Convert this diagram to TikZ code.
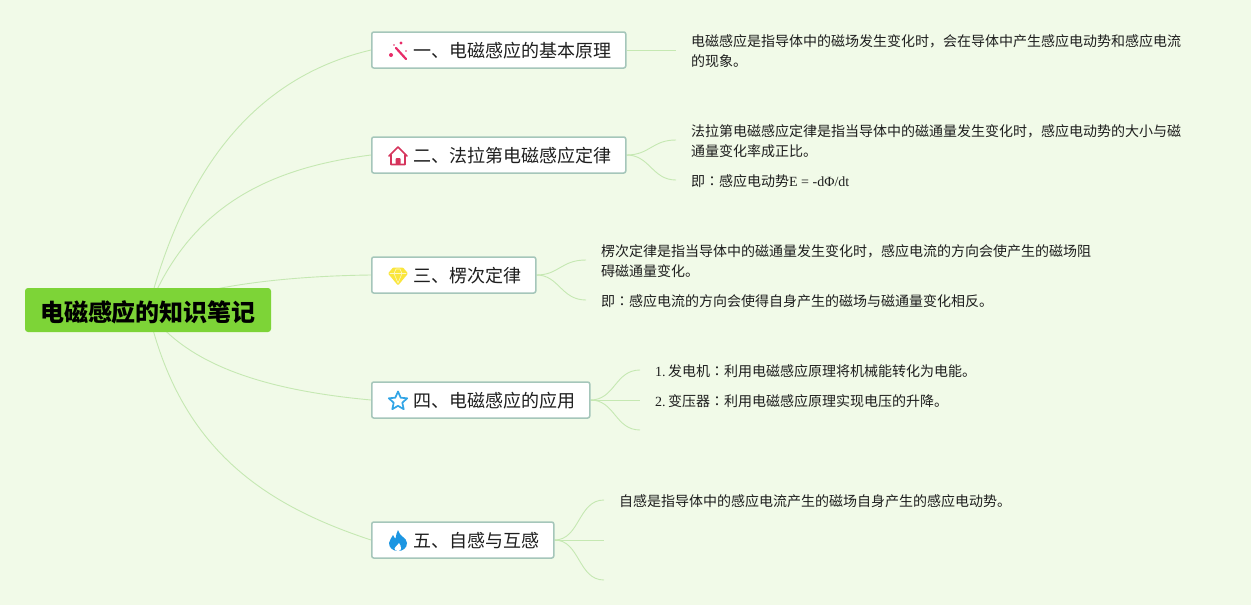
\documentclass[tikz,border=0pt]{standalone}
\usepackage{fontspec}
\setmainfont{Noto Sans CJK SC}
\newfontfamily\latinfont{Liberation Serif}
\newfontfamily\twfont{Noto Sans CJK TC}
\usetikzlibrary{backgrounds}
\definecolor{paper}{RGB}{241,250,232}
\definecolor{linkgreen}{RGB}{197,232,178}
\definecolor{rootgreen}{RGB}{125,212,55}
\definecolor{topicedge}{RGB}{165,198,186}
\definecolor{inkblack}{RGB}{30,30,30}
\definecolor{wandred}{RGB}{232,44,104}
\definecolor{housered}{RGB}{214,52,92}
\definecolor{gemyellow}{RGB}{250,230,60}
\definecolor{starblue}{RGB}{50,165,230}
\definecolor{flameblue}{RGB}{28,150,226}
\def\zhcolon{{\twfont ：}}
\def\topictext#1{\hspace*{27pt}#1}
\def\itemno#1{{\latinfont #1.}\hspace{2.4pt}}
\tikzset{
 rootnode/.style={fill=rootgreen,rounded corners=3pt,inner xsep=0pt,minimum width=246pt,minimum height=44pt,
  text height=22.2pt,text depth=0pt,font=\fontsize{24}{28}\selectfont\bfseries,text=black},
 topicnode/.style={draw=topicedge,line width=1.5pt,fill=white,rounded corners=2pt,anchor=west,inner xsep=14.5pt,
  inner ysep=0pt,minimum height=36pt,text height=16pt,text depth=0.3pt,font=\fontsize{18}{22}\selectfont,text=inkblack},
 leafnode/.style={anchor=west,yshift=-1.5pt,inner xsep=15pt,inner ysep=0pt,align=left,font=\fontsize{14}{20}\selectfont,text=inkblack},
 link/.style={draw=linkgreen,line width=0.9pt},
 wandicon/.pic={
  \draw[wandred,line width=2.2pt] (-3,-3)--(7,8);
  \fill[wandred] (2,-8) circle(1.6pt) (-8,4) circle(2pt) (-5,-6) circle(0.9pt) (7,0) circle(0.9pt);},
 houseicon/.pic={
  \draw[housered,line width=1.6pt] (-9,0)--(0,-9)--(9,0) (-7,-1)--(-7,8.5)--(7,8.5)--(7,-1);
  \fill[housered,rounded corners=1pt] (-2.5,8.5)--(-2.5,2)--(2.5,2)--(2.5,8.5)--cycle;},
 gemicon/.pic={
  \fill[gemyellow,rounded corners=1pt] (-5,-8.5)--(5,-8.5)--(10,-2.5)--(0,9.5)--(-10,-2.5)--cycle;
  \draw[white,opacity=0.7,line width=0.6pt] (-8,-2.5)--(8,-2.5) (-4,-2.5)--(0,7)--(4,-2.5) (-4,-2.5)--(-2,-7)--(2,-7)--(4,-2.5);},
 staricon/.pic={
  \draw[starblue,line width=1.7pt] (0,-9.5)--(2.7,-3.3)--(9.2,-2.7)--(4.3,1.7)--(5.7,8.2)--(0,4.8)
   --(-5.7,8.2)--(-4.3,1.7)--(-9.2,-2.7)--(-2.7,-3.3)--cycle;},
 flameicon/.pic={
  \fill[flameblue] (0,-11) .. controls (1,-5) and (9,-3) .. (9,2) .. controls (9,7) and (5,10) .. (0,10)
   .. controls (-5,10) and (-9,7) .. (-9,2) .. controls (-9,-1) and (-6,-3) .. (-5,-6)
   .. controls (-4,-4) and (-3.5,-3) .. (-2.5,-2.5) .. controls (-2,-6) and (-1,-9) .. (0,-11) -- cycle;
  \fill[white] (1,2) .. controls (1.5,4) and (4,5.5) .. (3,8) .. controls (2.5,9.5) and (1,10) .. (0,10)
   .. controls (-2,10) and (-3.5,9) .. (-3.5,7.5) .. controls (-3.5,6) and (-1,5) .. (1,2) -- cycle;},
}
\begin{document}
\begin{tikzpicture}[x=1pt,y=-1pt,line join=round,line cap=round]
 \useasboundingbox (0,0) rectangle (1251,605);
 % root and topics
 \node[rootnode] (root) at (148,310) {电磁感应的知识笔记};
 \node[topicnode] (topicA) at (371,50) {\topictext{一、电磁感应的基本原理}};
 \node[topicnode] (topicB) at (371,155) {\topictext{二、法拉第电磁感应定律}};
 \node[topicnode] (topicC) at (371,275) {\topictext{三、楞次定律}};
 \node[topicnode] (topicD) at (371,400) {\topictext{四、电磁感应的应用}};
 \node[topicnode] (topicE) at (371,540) {\topictext{五、自感与互感}};
 \pic at (399,51) {wandicon};
 \pic at (398,156) {houseicon};
 \pic at (398,276) {gemicon};
 \pic at (398,401) {staricon};
 \pic at (398,541) {flameicon};
 % leaves
 \node[leafnode] (leafA) at (676,50) {电磁感应是指导体中的磁场发生变化时，会在导体中产生感应电动势和感应电流\\的现象。};
 \node[leafnode] (leafBa) at (676,140) {法拉第电磁感应定律是指当导体中的磁通量发生变化时，感应电动势的大小与磁\\通量变化率成正比。};
 \node[leafnode] (leafBb) at (676,180) {即\zhcolon 感应电动势{\latinfont E = -dΦ/dt}};
 \node[leafnode] (leafCa) at (586,260) {楞次定律是指当导体中的磁通量发生变化时，感应电流的方向会使产生的磁场阻\\碍磁通量变化。};
 \node[leafnode] (leafCb) at (586,300) {即\zhcolon 感应电流的方向会使得自身产生的磁场与磁通量变化相反。};
 \node[leafnode] (leafDa) at (640,370) {\itemno{1}发电机\zhcolon 利用电磁感应原理将机械能转化为电能。};
 \node[leafnode] (leafDb) at (640,400) {\itemno{2}变压器\zhcolon 利用电磁感应原理实现电压的升降。};
 \coordinate (leafDc) at (640,430);
 \node[leafnode] (leafEa) at (604,500) {自感是指导体中的感应电流产生的磁场自身产生的感应电动势。};
 \coordinate (leafEb) at (604,540);
 \coordinate (leafEc) at (604,580);
 \begin{scope}[on background layer]
 \fill[paper] (0,0) rectangle (1251,605);
 \draw[link] (root.center) .. controls (188,155) and (265,75) .. (topicA.west);
 \draw[link] (root.center) .. controls (190,205) and (270,168) .. (topicB.west);
 \draw[link] (root.center) .. controls (200,285) and (290,276) .. (topicC.west);
 \draw[link] (root.center) .. controls (190,372) and (285,392) .. (topicD.west);
 \draw[link] (root.center) .. controls (180,450) and (265,505) .. (topicE.west);
 \draw[link] (topicA.east)--([yshift=1.5pt]leafA.west);
 \draw[link] (topicB.east) .. controls (650,155) and (652,140) .. ([yshift=1.5pt]leafBa.west);
 \draw[link] (topicB.east) .. controls (650,155) and (652,180) .. ([yshift=1.5pt]leafBb.west);
 \draw[link] (topicC.east) .. controls (559,275) and (561,260) .. ([yshift=1.5pt]leafCa.west);
 \draw[link] (topicC.east) .. controls (559,275) and (561,300) .. ([yshift=1.5pt]leafCb.west);
 \draw[link] (topicD.east) .. controls (615,400) and (615,370) .. ([yshift=1.5pt]leafDa.west);
 \draw[link] (topicD.east)--([yshift=1.5pt]leafDb.west);
 \draw[link] (topicD.east) .. controls (615,400) and (615,430) .. (leafDc);
 \draw[link] (topicE.east) .. controls (580,540) and (578,500) .. ([yshift=1.5pt]leafEa.west);
 \draw[link] (topicE.east)--(leafEb);
 \draw[link] (topicE.east) .. controls (580,540) and (578,580) .. (leafEc);
 \end{scope}
\end{tikzpicture}
\end{document}
